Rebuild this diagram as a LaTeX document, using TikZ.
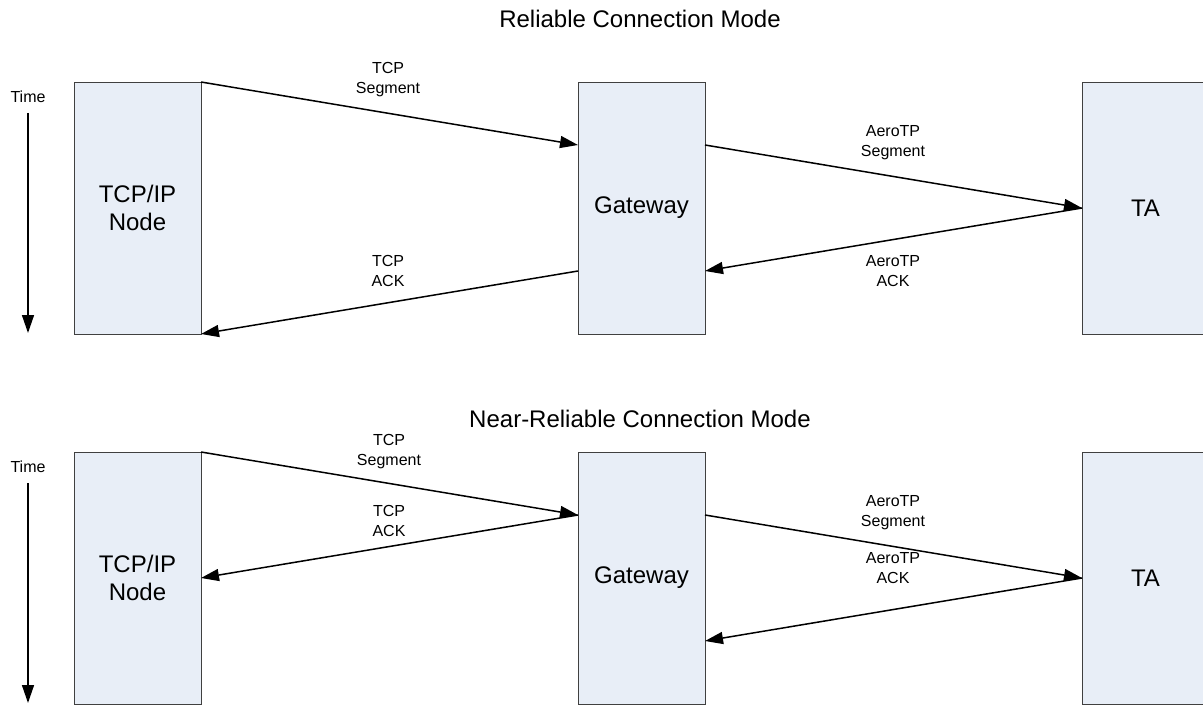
\documentclass[tikz,border=0pt]{standalone}
\usepackage{fontspec}
\setmainfont{Liberation Sans}
\usetikzlibrary{arrows.meta,calc}
\definecolor{boxfill}{HTML}{E8EEF7}
\definecolor{boxborder}{HTML}{404040}
\begin{document}
\begin{tikzpicture}[x=1pt,y=-1pt,
 box/.style={draw=boxborder, fill=boxfill, line width=0.9pt, minimum width=127pt, minimum height=252pt, inner sep=0pt, outer sep=0pt, font=\fontsize{24}{28}\selectfont, align=center},
 msg/.style={draw=black, line width=1.5pt, -{Triangle[length=18pt,width=12pt]}},
 lbl/.style={font=\fontsize{16}{20}\selectfont, align=center, inner sep=0pt},
 ttl/.style={font=\fontsize{24}{28}\selectfont, inner sep=0pt}]
\useasboundingbox (0,0) rectangle (1203,706);
\clip (0,0) rectangle (1203,706);
% ---------- top panel ----------
\node[ttl] (t1) at (640,19) {Reliable Connection Mode};
\node[lbl] (time1) at (28,97) {Time};
\coordinate (ta1s) at (28,113);
\coordinate (ta1e) at (28,333);
\draw[msg] (ta1s) -- (ta1e);
\node[box] (tcp1) at (137.5,208) {TCP/IP\\Node};
\node[box] (gw1) at (641.5,208) {Gateway};
\node[box] (ta1) at (1145.5,208) {TA};
\draw[msg] (tcp1.north east) -- ($(gw1.north west)!0.25!(gw1.south west)$);
\draw[msg] ($(gw1.north east)!0.25!(gw1.south east)$) -- (ta1.west);
\draw[msg] (ta1.west) -- ($(gw1.north east)!0.75!(gw1.south east)$);
\draw[msg] ($(gw1.north west)!0.75!(gw1.south west)$) -- (tcp1.south east);
\node[lbl] (l1a) at (388,80) {TCP\\Segment};
\node[lbl] (l1b) at (893,143) {AeroTP\\Segment};
\node[lbl] (l1c) at (893,271) {AeroTP\\ACK};
\node[lbl] (l1d) at (388,271) {TCP\\ACK};
% ---------- bottom panel ----------
\node[ttl] (t2) at (640,419) {Near-Reliable Connection Mode};
\node[lbl] (time2) at (28,467) {Time};
\coordinate (ta2s) at (28,483);
\coordinate (ta2e) at (28,703);
\draw[msg] (ta2s) -- (ta2e);
\node[box] (tcp2) at (137.5,578) {TCP/IP\\Node};
\node[box] (gw2) at (641.5,578) {Gateway};
\node[box] (ta2) at (1145.5,578) {TA};
\draw[msg] (tcp2.north east) -- ($(gw2.north west)!0.25!(gw2.south west)$);
\draw[msg] ($(gw2.north west)!0.25!(gw2.south west)$) -- (tcp2.east);
\draw[msg] ($(gw2.north east)!0.25!(gw2.south east)$) -- (ta2.west);
\draw[msg] (ta2.west) -- ($(gw2.north east)!0.75!(gw2.south east)$);
\node[lbl] (l2a) at (389,452) {TCP\\Segment};
\node[lbl] (l2b) at (389,521) {TCP\\ACK};
\node[lbl] (l2c) at (893,513) {AeroTP\\Segment};
\node[lbl] (l2d) at (893,568) {AeroTP\\ACK};
\end{tikzpicture}
\end{document}
